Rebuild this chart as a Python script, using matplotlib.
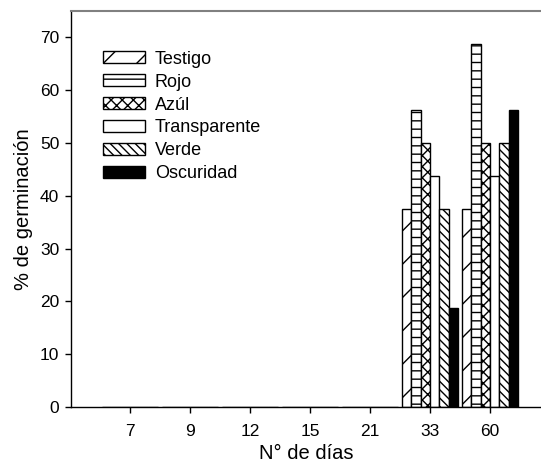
import numpy as np
import matplotlib
matplotlib.use("Agg")
import matplotlib.pyplot as plt

plt.rcParams['font.family'] = ['Liberation Sans', 'DejaVu Sans']
plt.rcParams['hatch.linewidth'] = 1.0

days = ['7', '9', '12', '15', '21', '33', '60']
testigo = [0, 0, 0, 0, 0, 37.5, 37.5]
rojo = [0, 0, 0, 0, 0, 56.25, 68.75]
azul = [0, 0, 0, 0, 0, 50.0, 50.0]
transparente = [0, 0, 0, 0, 0, 43.75, 43.75]
verde = [0, 0, 0, 0, 0, 37.5, 50.0]
oscuridad = [0, 0, 0, 0, 0, 18.75, 56.25]

series = [
    ('Testigo', testigo, 'white', '/'),
    ('Rojo', rojo, 'white', '--'),
    ('Azúl', azul, 'white', 'xxx'),
    ('Transparente', transparente, 'white', ''),
    ('Verde', verde, 'white', '\\\\\\\\'),
    ('Oscuridad', oscuridad, 'black', ''),
]

fig = plt.figure(figsize=(5.41, 4.63), dpi=100)
ax = fig.add_axes([71 / 541, 56 / 463, 470 / 541, 396 / 463])

x = np.arange(len(days))
w = 0.155
for i, (name, vals, color, hatch) in enumerate(series):
    # empty days get no outline so the baseline stays a single thin line
    lw = [1.0 if v > 0 else 0.0 for v in vals]
    ax.bar(x + (i - 2.5) * w, vals, width=w, color=color, edgecolor='black',
           linewidth=lw, hatch=hatch, label=name)

ax.set_xlim(-0.98, 6.85)
ax.set_ylim(0, 75)
ax.set_xticks(x)
ax.set_xticklabels(days, fontsize=12.5)
ax.set_yticks(np.arange(0, 71, 10))
ax.tick_params(axis='y', labelsize=12.5, length=4.5, width=1, direction='out', pad=4)
ax.tick_params(axis='x', length=4.5, width=1, direction='out', pad=8)

ax.spines['right'].set_visible(False)
ax.spines['top'].set_color('#808080')
ax.spines['top'].set_linewidth(1.5)
ax.spines['left'].set_linewidth(1.0)
ax.spines['bottom'].set_linewidth(1.0)

ax.set_xlabel('N° de días', fontsize=14.5, labelpad=3)
ax.set_ylabel('% de germinación', fontsize=14.5, labelpad=5)

handles, labels = ax.get_legend_handles_labels()
for h in handles:
    for p in h.patches:
        p.set_linewidth(1.0)
leg = ax.legend(handles, labels, loc='upper left', bbox_to_anchor=(0.068, 0.9),
                frameon=False, fontsize=13, handlelength=2.33, handleheight=0.67,
                handletextpad=0.55, labelspacing=0.33, borderaxespad=0,
                borderpad=0)

fig.savefig('out.png', dpi=100)
